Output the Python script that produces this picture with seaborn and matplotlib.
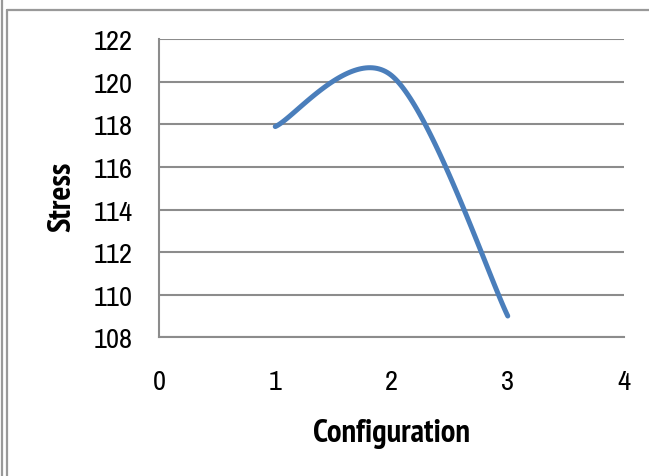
import numpy as np
import pandas as pd
import seaborn as sns
import matplotlib
matplotlib.use("Agg")
import matplotlib.pyplot as plt
from matplotlib import font_manager
from matplotlib.font_manager import FontProperties
from matplotlib.lines import Line2D

# Measured stress for each configuration
configuration = [1, 2, 3]
stress = [117.9, 120.3, 109.0]

x_ticks = [0, 1, 2, 3, 4]
y_ticks = [108, 110, 112, 114, 116, 118, 120, 122]


def smooth_curve(xs, ys, n=60):
    """Cubic Bezier smoothing through the points (Catmull-Rom style tangents)."""
    pts = np.column_stack([xs, ys]).astype(float)
    out = []
    for i in range(len(pts) - 1):
        p0 = pts[max(i - 1, 0)]
        p1 = pts[i]
        p2 = pts[i + 1]
        p3 = pts[min(i + 2, len(pts) - 1)]
        c1 = p1 + (p2 - p0) / 6.0
        c2 = p2 - (p3 - p1) / 6.0
        t = np.linspace(0, 1, n)[:, None]
        seg = ((1 - t) ** 3) * p1 + 3 * ((1 - t) ** 2) * t * c1 \
            + 3 * (1 - t) * t ** 2 * c2 + t ** 3 * p2
        out.append(seg if i == 0 else seg[1:])
    return np.vstack(out)


def narrow_font(bold):
    """Pick a narrow/condensed sans face if one is installed."""
    fonts = font_manager.fontManager.ttflist
    want_bold = lambda f: (f.weight in ("bold", 700)) if bold else (f.weight in ("normal", "regular", 400))
    tests = [
        lambda f: "Narrow" in f.name,
        lambda f: "Condensed" in f.name,
        lambda f: str(f.stretch) in ("condensed", "semi-condensed", "extra-condensed"),
    ]
    for test in tests:
        for f in fonts:
            if test(f) and want_bold(f) and "Oblique" not in f.fname and "Italic" not in f.fname:
                return FontProperties(fname=f.fname)
    return None


curve = smooth_curve(configuration, stress)
df = pd.DataFrame({"Configuration": curve[:, 0], "Stress": curve[:, 1]})

sns.set_theme(style="white")
plt.rcParams["font.family"] = ["DejaVu Sans"]

fp_reg = narrow_font(False)
fp_bold = narrow_font(True)
found = fp_reg is not None
if fp_reg is None:
    fp_reg = FontProperties(family="Roboto")
if fp_bold is None:
    fp_bold = FontProperties(family="Roboto", weight="bold")

tick_size = 20.5 if found else 16
label_size = 23.5 if found else 16
fp_reg.set_size(tick_size)
fp_bold.set_size(label_size)

fig = plt.figure(figsize=(6.49, 4.77), dpi=100)
ax = fig.add_axes([0.245, 0.2908, 0.9615 - 0.245, 0.9155 - 0.2908])

grid_color = "#8c8c8c"
sns.lineplot(data=df, x="Configuration", y="Stress", ax=ax, sort=False,
             color="#4a7ebb", linewidth=3.6, solid_capstyle="round",
             solid_joinstyle="round", zorder=3)

ax.set_xlim(0, 4)
ax.set_ylim(108, 122)
ax.set_xticks(x_ticks)
ax.set_yticks(y_ticks)
ax.set_xticklabels([str(v) for v in x_ticks], fontproperties=fp_reg, color="black")
ax.set_yticklabels([str(v) for v in y_ticks], fontproperties=fp_reg, color="black")
ax.yaxis.grid(True, color=grid_color, linewidth=1.5)
ax.xaxis.grid(False)
ax.set_axisbelow(True)

for side in ["top", "right"]:
    ax.spines[side].set_visible(False)
for side in ["left", "bottom"]:
    ax.spines[side].set_color(grid_color)
    ax.spines[side].set_linewidth(1.5)

ax.tick_params(axis="both", length=0)
ax.tick_params(axis="y", pad=19)
ax.tick_params(axis="x", pad=23)

ax.set_xlabel("Configuration", fontproperties=fp_bold, color="black", labelpad=17)
ax.set_ylabel("Stress", fontproperties=fp_bold, color="black", labelpad=12)
ax.yaxis.label.set_y(0.476)

# Chart border
W, H = 649, 477
def fx(px):
    return px / W
def fy(py):
    return 1 - py / H

border = "#999999"
fig.add_artist(Line2D([fx(7), fx(7)], [fy(11), fy(477)], color=border, linewidth=1.6))
fig.add_artist(Line2D([fx(7), fx(649)], [fy(11), fy(11)], color=border, linewidth=1.6))
fig.add_artist(Line2D([fx(1.5), fx(1.5)], [fy(0), fy(477)], color=border, linewidth=1.6))

fig.savefig("out.png", dpi=100)
